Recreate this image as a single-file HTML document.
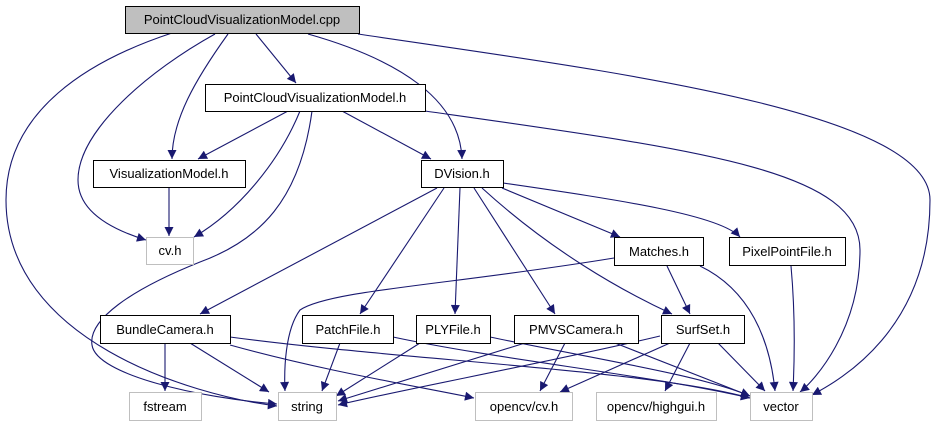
<!DOCTYPE html>
<html><head><meta charset="utf-8"><style>
html,body{margin:0;padding:0;background:#fff;}
svg{display:block;}
text{font-family:"Liberation Sans","DejaVu Sans",sans-serif;font-size:13px;fill:#000;}
</style></head><body>
<svg width="939" height="427" viewBox="0 0 939 427" xmlns="http://www.w3.org/2000/svg">
<defs>
<marker id="a" viewBox="0 0 10 10" refX="10" refY="5" markerWidth="10" markerHeight="9" markerUnits="userSpaceOnUse" orient="auto">
<path d="M0,0 L10,5 L0,10 z" fill="#191970"/>
</marker>
</defs>
<g fill="none" stroke="#191970" stroke-width="1.1" marker-end="url(#a)">
<path d="M172,33 C90,60 6,110 6,200 C6,340 190,395 277,406"/>
<path d="M215,34 C150,70 78,130 78,180 C78,215 120,232 146,240"/>
<path d="M228,34 C195,80 172,120 172,159"/>
<path d="M256,34 L296,83"/>
<path d="M308,34 C400,60 460,100 462,159"/>
<path d="M358,34 C600,70 930,110 930,200 C930,330 840,380 812,395"/>
<path d="M288,111 L198,159"/>
<path d="M300,111 C280,160 240,210 194,237"/>
<path d="M312,111 C300,200 260,240 200,262 C130,290 88,320 92,345 C96,375 200,398 277,404"/>
<path d="M342,111 L431,159"/>
<path d="M425,111 C700,150 860,170 860,250 C860,330 815,380 800,392"/>
<path d="M169,188 L169,236"/>
<path d="M437,188 L200,314"/>
<path d="M444,188 L360,314"/>
<path d="M460,188 L455,314"/>
<path d="M474,188 L555,314"/>
<path d="M482,188 C550,250 620,290 672,314"/>
<path d="M502,188 L620,237"/>
<path d="M503,183 C620,200 720,215 740,237"/>
<path d="M614,258 C450,285 330,290 300,310 C285,330 284,370 285,391"/>
<path d="M667,266 L690,314"/>
<path d="M700,266 C750,290 770,340 775,391"/>
<path d="M791,266 C795,310 795,350 793,391"/>
<path d="M165,343 L165,391"/>
<path d="M190,343 L269,392"/>
<path d="M230,345 C320,370 410,385 474,398"/>
<path d="M230,337 C400,360 650,370 750,398"/>
<path d="M340,343 L322,391"/>
<path d="M393,337 C500,360 650,375 750,398"/>
<path d="M420,343 L336,396"/>
<path d="M490,337 C600,360 700,375 750,396"/>
<path d="M525,343 L338,401"/>
<path d="M565,343 L540,391"/>
<path d="M615,343 L750,396"/>
<path d="M660,336 C560,360 400,390 338,405"/>
<path d="M670,343 L560,392"/>
<path d="M690,343 L665,391"/>
<path d="M718,343 L765,391"/>
</g>
<g stroke-width="1">
<rect x="125.5" y="6.5" width="234" height="27" fill="#bfbfbf" stroke="#000"/>
<rect x="205.5" y="84.5" width="220" height="27" fill="#fff" stroke="#000"/>
<rect x="93.5" y="160.5" width="152" height="27" fill="#fff" stroke="#000"/>
<rect x="421.5" y="160.5" width="82" height="27" fill="#fff" stroke="#000"/>
<rect x="146.5" y="237.5" width="47" height="27" fill="#fff" stroke="#bfbfbf"/>
<rect x="614.5" y="237.5" width="89" height="28" fill="#fff" stroke="#000"/>
<rect x="729.5" y="237.5" width="116" height="28" fill="#fff" stroke="#000"/>
<rect x="100.5" y="315.5" width="130" height="28" fill="#fff" stroke="#000"/>
<rect x="302.5" y="315.5" width="91" height="28" fill="#fff" stroke="#000"/>
<rect x="416.5" y="315.5" width="74" height="28" fill="#fff" stroke="#000"/>
<rect x="514.5" y="315.5" width="124" height="28" fill="#fff" stroke="#000"/>
<rect x="661.5" y="315.5" width="83" height="28" fill="#fff" stroke="#000"/>
<rect x="129.5" y="392.5" width="72" height="28" fill="#fff" stroke="#bfbfbf"/>
<rect x="278.5" y="392.5" width="58" height="28" fill="#fff" stroke="#bfbfbf"/>
<rect x="475.5" y="392.5" width="97" height="28" fill="#fff" stroke="#bfbfbf"/>
<rect x="596.5" y="392.5" width="120" height="28" fill="#fff" stroke="#bfbfbf"/>
<rect x="750.5" y="392.5" width="62" height="28" fill="#fff" stroke="#bfbfbf"/>
</g>
<g text-anchor="middle">
<text x="242" y="24">PointCloudVisualizationModel.cpp</text>
<text x="315" y="102">PointCloudVisualizationModel.h</text>
<text x="169" y="178">VisualizationModel.h</text>
<text x="462" y="178">DVision.h</text>
<text x="170" y="255">cv.h</text>
<text x="659" y="256">Matches.h</text>
<text x="787" y="256">PixelPointFile.h</text>
<text x="165" y="334">BundleCamera.h</text>
<text x="348" y="334">PatchFile.h</text>
<text x="453" y="334">PLYFile.h</text>
<text x="576" y="334">PMVSCamera.h</text>
<text x="703" y="334">SurfSet.h</text>
<text x="165" y="411">fstream</text>
<text x="307" y="411">string</text>
<text x="524" y="411">opencv/cv.h</text>
<text x="656" y="411">opencv/highgui.h</text>
<text x="781" y="411">vector</text>
</g>
</svg>
</body></html>
